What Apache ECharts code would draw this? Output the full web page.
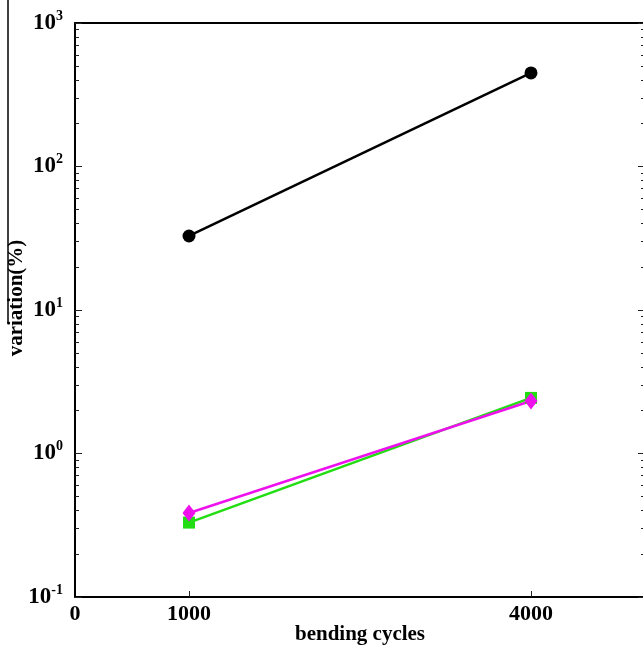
<!DOCTYPE html>
<html>
<head>
    <meta charset="utf-8">
    <title>ECharts</title>
    <script src="https://cdn.jsdelivr.net/npm/echarts@6/dist/echarts.min.js"></script>
</head>
<body style='background-color: #ffffff;margin:0px;'>
    <div id="main" style="width: 643px;height:648px;"></div>
    <script type="text/javascript">
        // data
        var cycles = [1000, 4000];
        var blackSeries = [32.8, 449];
        var greenSeries = [0.33, 2.44];
        var magentaSeries = [0.385, 2.32];
        var xLabelValues = [0, 1000, 4000];
        var xTickValues = [1000, 4000];
        var yMajor = [0.1, 1, 10, 100, 1000];

        var yMinor = [];
        for (var k = 0; k < 4; k++) {
            for (var m = 2; m <= 9; m++) {
                yMinor.push(Number((m * Math.pow(10, k - 1)).toPrecision(2)));
            }
        }

        var serif = '"Liberation Serif", "DejaVu Serif", serif';

        function pairs(ys) {
            var out = [];
            for (var i = 0; i < cycles.length; i++) out.push([cycles[i], ys[i]]);
            return out;
        }

        function logAxis(pos, ticks, len, showLabel) {
            return {
                type: 'log',
                logBase: 10,
                position: pos,
                min: 0.1,
                max: 1000,
                axisLine: { show: pos == 'left' && showLabel, lineStyle: { color: '#000', width: 2 } },
                axisTick: { show: true, inside: true, length: len, customValues: ticks, lineStyle: { color: '#222', width: 1 } },
                axisLabel: {
                    show: showLabel,
                    customValues: yMajor,
                    margin: 12,
                    formatter: function (v) {
                        return '{b|10}{s|' + Math.round(Math.log10(v)) + '}';
                    },
                    rich: {
                        b: { fontFamily: serif, fontWeight: 'bold', fontSize: 23, color: '#000', lineHeight: 28 },
                        s: { fontFamily: serif, fontWeight: 'bold', fontSize: 14, color: '#000', verticalAlign: 'top', lineHeight: 28, padding: [0, 0, 16, 0] }
                    }
                },
                splitLine: { show: false },
                name: showLabel && pos == 'left' ? 'variation(%)' : '',
                nameLocation: 'middle',
                nameGap: 48,
                nameMoveOverlap: false,
                nameTextStyle: { fontFamily: serif, fontWeight: 'bold', fontSize: 21, color: '#000', padding: [0, 0, 0, 24] }
            };
        }

        var myChart = echarts.init(document.getElementById('main'));
        var option = {
            animation: false,
            backgroundColor: '#fff',
            grid: { left: 75, right: -2, top: 23, bottom: 51, containLabel: false, outerBoundsMode: 'none' },
            xAxis: [{
                type: 'value',
                min: 0,
                max: 5000,
                position: 'bottom',
                axisLine: { lineStyle: { color: '#000', width: 2 } },
                axisTick: { show: true, inside: true, length: 6, customValues: xTickValues, lineStyle: { color: '#222' } },
                axisLabel: {
                    customValues: xLabelValues,
                    formatter: function (v) { return String(v); },
                    fontFamily: serif, fontWeight: 'bold', fontSize: 22, color: '#000', margin: 6
                },
                splitLine: { show: false },
                name: 'bending cycles',
                nameLocation: 'middle',
                nameGap: 27,
                nameMoveOverlap: false,
                nameTextStyle: { fontFamily: serif, fontWeight: 'bold', fontSize: 21, color: '#000' }
            }, {
                type: 'value',
                min: 0,
                max: 5000,
                position: 'top',
                axisLine: { lineStyle: { color: '#000', width: 2 } },
                axisTick: { show: false },
                axisLabel: { show: false },
                splitLine: { show: false }
            }],
            yAxis: [
                logAxis('left', yMajor, 7, true),
                logAxis('left', yMinor, 4, false),
                logAxis('right', yMajor, 7, false),
                logAxis('right', yMinor, 4, false)
            ],
            graphic: [{
                type: 'line',
                shape: { x1: 8, y1: 0, x2: 8, y2: 323 },
                style: { stroke: '#000', lineWidth: 1.5 }
            }],
            series: [{
                type: 'line',
                data: pairs(blackSeries),
                symbol: 'circle',
                symbolSize: 13,
                itemStyle: { color: '#000' },
                lineStyle: { color: '#000', width: 2.5 }
            }, {
                type: 'line',
                data: pairs(greenSeries),
                symbol: 'rect',
                symbolSize: 12,
                itemStyle: { color: '#22dd11' },
                lineStyle: { color: '#22dd11', width: 2.5 }
            }, {
                type: 'line',
                data: pairs(magentaSeries),
                symbol: 'diamond',
                symbolSize: [13, 17],
                itemStyle: { color: '#ee11ee' },
                lineStyle: { color: '#ee11ee', width: 2.5 }
            }]
        };
        myChart.setOption(option);
    </script>
</body>
</html>
